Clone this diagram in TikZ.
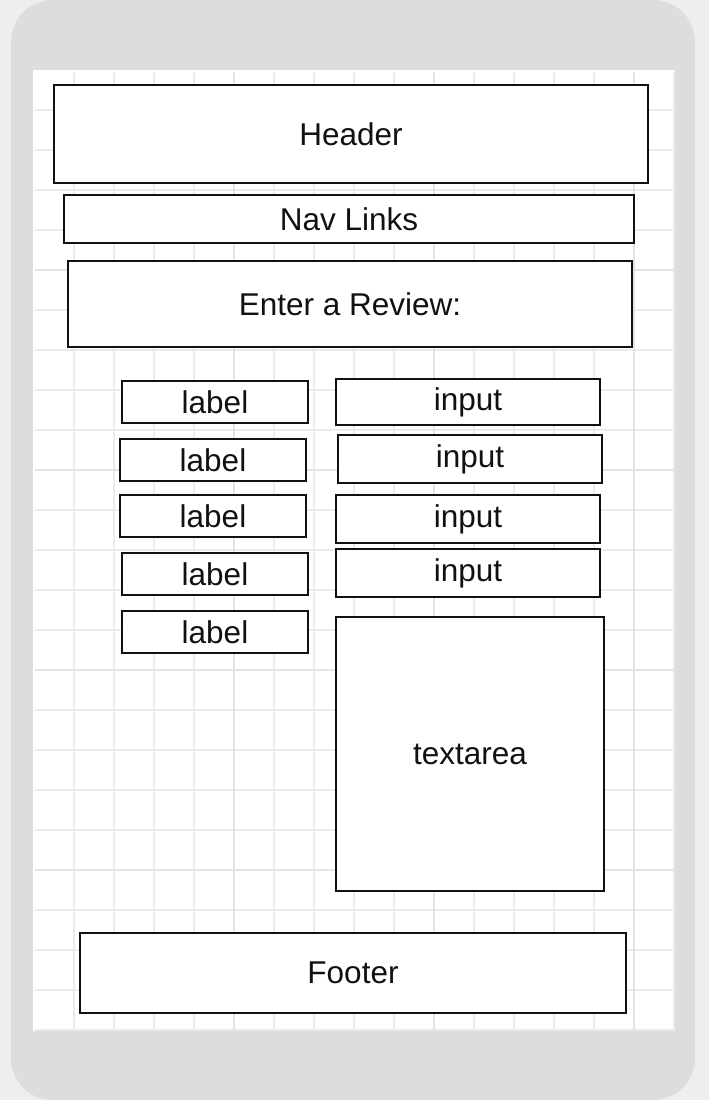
\documentclass[tikz,border=0pt]{standalone}
\usepackage{fontspec}
\setmainfont{Liberation Sans}
\definecolor{pagegray}{HTML}{EEEEEE}
\definecolor{phonegray}{HTML}{DDDDDD}
\definecolor{gridgray}{HTML}{EBEBEB}
\definecolor{majorgray}{HTML}{E4E4E4}
\definecolor{inkgray}{HTML}{111111}
\tikzset{
  box/.style 2 args={draw=inkgray, line width=2pt, fill=white, inner sep=0pt,
    minimum width=#1, minimum height=#2, font=\fontsize{31.5}{38}\selectfont, text=inkgray},
}
\begin{document}
\begin{tikzpicture}[x=1pt,y=-1pt]
        \useasboundingbox (0,0) rectangle (709,1100);
        % phone
        \fill[pagegray] (0,0) rectangle (709,1100);
        \fill[phonegray, rounded corners=42pt] (11,0) rectangle (695,1100);
        \fill[white] (33,70) rectangle (675,1031);
        % grid
        \foreach \x in {74,114,...,674}
          \draw[gridgray, line width=1.5pt] (\x,72) -- (\x,1030);
        \foreach \y in {110,150,...,1030}
          \draw[gridgray, line width=1.5pt] (35,\y) -- (674,\y);
        \foreach \x in {234,434,634}
          \draw[majorgray, line width=2pt] (\x,72) -- (\x,1030);
        \foreach \y in {270,470,670,870}
          \draw[majorgray, line width=2pt] (35,\y) -- (674,\y);
        % page blocks
        \node[box={594}{98}] (header) at (351,134) {Header};
        \node[box={570}{48}] (nav) at (349,219) {Nav Links};
        \node[box={564}{86}] (title) at (350,304) {Enter a Review:};
        % labels
        \node[box={186}{42}] (label1) at (215,402) {label};
        \node[box={186}{42}] (label2) at (213,460) {label};
        \node[box={186}{42}] (label3) at (213,516) {label};
        \node[box={186}{42}] (label4) at (215,574) {label};
        \node[box={186}{42}] (label5) at (215,632) {label};
        % inputs
        \node[box={264}{46}] (input1) at (468,402) {input};
        \node[box={264}{48}] (input2) at (470,459) {input};
        \node[box={264}{48}] (input3) at (468,519) {input};
        \node[box={264}{48}] (input4) at (468,573) {input};
        \node[box={268}{274}] (textarea) at (470,754) {textarea};
        % footer
        \node[box={546}{80}] (footer) at (353,973) {Footer};
\end{tikzpicture}
\end{document}
